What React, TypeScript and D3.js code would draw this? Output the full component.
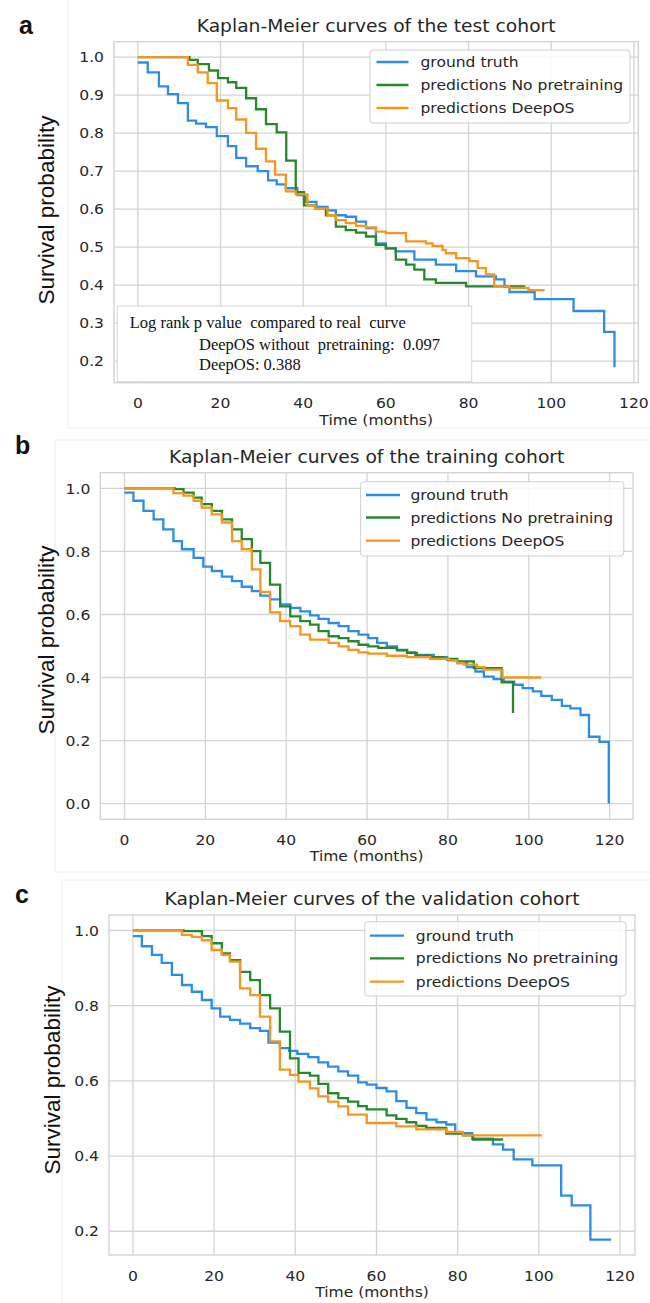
import React from 'react';
import * as d3 from 'd3';

type Pt = [number, number];

// ---- Kaplan-Meier step data: [time in months, survival probability] ----
// Test cohort
const testTruth: Pt[] = [
  [0, 0.986], [2.4, 0.96], [5.1, 0.923], [7.3, 0.903], [9.7, 0.879], [12.1, 0.833], [14.1, 0.825],
  [16.5, 0.816], [19.1, 0.792], [21.8, 0.766], [23.8, 0.735], [26.2, 0.713], [29.0, 0.7], [31.5, 0.676],
  [33.6, 0.665], [35.8, 0.655], [38.6, 0.637], [40.6, 0.619], [43.2, 0.606], [45.9, 0.597], [47.9, 0.584],
  [50.3, 0.58], [52.8, 0.567], [55.2, 0.55], [57.6, 0.51], [60.0, 0.497], [62.4, 0.489], [66.9, 0.467],
  [72.1, 0.454], [77.0, 0.437], [81.8, 0.423], [86.6, 0.415], [88.7, 0.397], [89.9, 0.382], [96.0, 0.363],
  [105.4, 0.332], [112.8, 0.277], [115.3, 0.184],
];
const testNoPretrain: Pt[] = [
  [0, 1.0], [12.5, 0.993], [14.5, 0.982], [17.2, 0.965], [19.4, 0.945], [21.8, 0.934], [23.8, 0.919],
  [26.2, 0.892], [28.6, 0.863], [31.0, 0.824], [33.6, 0.802], [35.9, 0.728], [38.2, 0.645], [40.2, 0.61],
  [42.9, 0.602], [45.5, 0.584], [47.9, 0.554], [50.3, 0.545], [52.8, 0.538], [55.2, 0.528], [57.6, 0.506],
  [60.0, 0.497], [62.4, 0.467], [64.9, 0.454], [66.9, 0.441], [69.3, 0.415], [72.1, 0.406], [79.4, 0.397],
  [93.7, 0.397],
];
const testDeepOS: Pt[] = [
  [0, 1.0], [12.1, 0.98], [14.5, 0.96], [16.9, 0.932], [19.1, 0.886], [21.8, 0.866], [23.8, 0.836],
  [26.2, 0.801], [28.6, 0.759], [31.0, 0.726], [33.2, 0.691], [35.8, 0.647], [38.2, 0.639], [41.0, 0.61],
  [42.9, 0.602], [45.9, 0.584], [47.9, 0.571], [50.3, 0.563], [52.8, 0.556], [55.2, 0.552], [57.6, 0.541],
  [60.0, 0.537], [64.9, 0.515], [69.7, 0.51], [71.3, 0.503], [73.7, 0.493], [74.5, 0.484], [77.0, 0.471],
  [80.2, 0.463], [82.2, 0.445], [84.2, 0.428], [86.2, 0.397], [89.9, 0.393], [94.5, 0.387], [98.4, 0.387],
];

// Training cohort
const trainTruth: Pt[] = [
  [0, 0.987], [2.2, 0.961], [4.7, 0.929], [7.2, 0.902], [9.6, 0.87], [12.1, 0.833], [14.2, 0.807],
  [17.1, 0.78], [19.5, 0.752], [21.6, 0.738], [24.1, 0.72], [26.6, 0.706], [29.0, 0.688], [31.5, 0.674],
  [33.6, 0.66], [36.0, 0.648], [38.5, 0.632], [41.0, 0.621], [43.5, 0.61], [45.9, 0.597], [48.0, 0.586],
  [50.5, 0.573], [53.0, 0.563], [55.4, 0.547], [57.9, 0.536], [60.3, 0.525], [62.5, 0.51], [64.9, 0.499],
  [67.4, 0.488], [69.9, 0.48], [71.9, 0.472], [76.5, 0.465], [79.8, 0.456], [82.3, 0.446], [84.7, 0.433],
  [86.8, 0.419], [88.9, 0.403], [91.3, 0.395], [93.8, 0.387], [96.4, 0.377], [98.5, 0.366], [101.0, 0.356],
  [103.1, 0.342], [105.7, 0.329], [108.2, 0.31], [110.3, 0.302], [112.8, 0.281], [114.9, 0.212],
  [117.5, 0.196], [119.8, 0.0],
];
const trainNoPretrain: Pt[] = [
  [0, 1.0], [12.5, 0.998], [14.6, 0.987], [17.1, 0.971], [19.1, 0.95], [21.6, 0.929], [24.1, 0.902],
  [26.6, 0.87], [29.0, 0.839], [31.5, 0.801], [33.6, 0.764], [36.0, 0.695], [38.5, 0.626], [41.0, 0.594],
  [43.5, 0.579], [45.9, 0.568], [48.0, 0.547], [50.5, 0.531], [53.0, 0.525], [55.4, 0.515], [57.9, 0.504],
  [60.3, 0.499], [62.8, 0.494], [67.4, 0.486], [69.9, 0.478], [72.3, 0.469], [75.6, 0.465], [78.9, 0.459],
  [82.3, 0.451], [86.4, 0.43], [93.3, 0.385], [96.1, 0.287],
];
const trainDeepOS: Pt[] = [
  [0, 1.0], [12.1, 0.985], [14.6, 0.977], [17.1, 0.961], [19.1, 0.939], [21.6, 0.918], [24.1, 0.892],
  [26.6, 0.833], [29.0, 0.807], [31.5, 0.743], [33.6, 0.672], [36.0, 0.607], [38.5, 0.579], [41.0, 0.563],
  [43.5, 0.536], [45.9, 0.52], [50.5, 0.51], [53.0, 0.499], [55.4, 0.488], [57.9, 0.48], [60.3, 0.476],
  [64.9, 0.469], [69.9, 0.465], [75.6, 0.459], [80.2, 0.454], [82.3, 0.446], [83.9, 0.441], [87.2, 0.433],
  [89.0, 0.425], [93.5, 0.4], [103.1, 0.4],
];

// Validation cohort
const validTruth: Pt[] = [
  [0, 0.985], [2.2, 0.958], [4.7, 0.935], [7.1, 0.914], [9.6, 0.882], [12.1, 0.855], [14.5, 0.837],
  [17.0, 0.815], [19.4, 0.793], [21.5, 0.771], [23.9, 0.762], [26.4, 0.752], [28.9, 0.74], [31.3, 0.733],
  [33.4, 0.702], [36.2, 0.687], [38.5, 0.68], [40.5, 0.672], [43.2, 0.663], [45.7, 0.649], [48.1, 0.638],
  [50.6, 0.625], [53.0, 0.614], [55.5, 0.596], [57.6, 0.59], [60.0, 0.581], [62.5, 0.572], [64.9, 0.546],
  [67.4, 0.528], [69.8, 0.514], [72.3, 0.497], [74.8, 0.49], [77.2, 0.484], [79.4, 0.461], [83.6, 0.446],
  [88.7, 0.431], [91.2, 0.417], [93.8, 0.391], [98.4, 0.375], [105.5, 0.295], [108.1, 0.269],
  [112.7, 0.178], [117.8, 0.178],
];
const validNoPretrain: Pt[] = [
  [0, 1.0], [12.5, 0.998], [17.0, 0.985], [19.4, 0.966], [21.9, 0.939], [23.9, 0.921], [26.4, 0.89],
  [28.9, 0.868], [31.3, 0.828], [33.8, 0.793], [36.2, 0.731], [38.7, 0.66], [40.8, 0.621], [43.6, 0.614],
  [45.7, 0.592], [48.1, 0.567], [50.6, 0.554], [53.0, 0.545], [55.5, 0.533], [57.6, 0.524], [62.5, 0.508],
  [64.9, 0.499], [67.4, 0.49], [69.8, 0.48], [72.3, 0.475], [77.2, 0.46], [81.3, 0.455], [83.8, 0.444],
  [91.2, 0.444],
];
const validDeepOS: Pt[] = [
  [0, 1.0], [12.1, 0.988], [14.5, 0.983], [17.0, 0.974], [19.4, 0.948], [21.9, 0.935], [23.9, 0.917],
  [26.4, 0.846], [28.9, 0.828], [31.3, 0.771], [33.8, 0.705], [36.2, 0.63], [38.7, 0.616], [40.8, 0.598],
  [43.6, 0.58], [45.7, 0.559], [48.1, 0.545], [50.6, 0.532], [53.0, 0.51], [57.6, 0.488], [64.9, 0.479],
  [69.8, 0.471], [77.2, 0.464], [81.3, 0.455], [100.7, 0.455],
];

const seriesNames = ['ground truth', 'predictions No pretraining', 'predictions DeepOS'];
const seriesColors = ['#2b8de6', '#24892c', '#f6961f'];

const xTicks = [0, 20, 40, 60, 80, 100, 120];
const yTicksTest = [0.2, 0.3, 0.4, 0.5, 0.6, 0.7, 0.8, 0.9, 1.0];
const yTicksTrain = [0.0, 0.2, 0.4, 0.6, 0.8, 1.0];
const yTicksValid = [0.2, 0.4, 0.6, 0.8, 1.0];

const logRankLines = [
  'Log rank p value  compared to real  curve',
  'DeepOS without  pretraining:  0.097',
  'DeepOS: 0.388',
];

// ---- layout ----
const W = 650;
const H = 1303;
const SANS = "'DejaVu Sans', sans-serif";
const ARIAL = "'Liberation Sans', Arial, sans-serif";
const SERIF = "'Liberation Serif', 'Times New Roman', serif";
const INK = '#262626';
const GRID = '#d4d4d4';
const TICK_SIZE = 14.4;
const TICK_SX = 1.08; // horizontal glyph stretch of the figure
const TITLE_SIZE = 17;
const TITLE_SX = 1.1;

interface PanelSpec {
  letter: string;
  title: string;
  series: Pt[][];
  yTicks: number[];
  frame: { x0: number; x1: number; y0: number; y1: number };
  legend: { x: number; y: number; w: number; h: number; rows: number[]; lx0: number; lx1: number; tx: number };
  ylab: { x: number; y: number };
  letterPos: { x: number; y: number };
  outline: { x: number; y: number; w: number; h: number };
  note?: boolean;
}

const panels: PanelSpec[] = [
  {
    letter: 'a',
    title: 'Kaplan-Meier curves of the test cohort',
    series: [testTruth, testNoPretrain, testDeepOS],
    yTicks: yTicksTest,
    frame: { x0: 114, x1: 638.3, y0: 41.7, y1: 382.7 },
    legend: { x: 370, y: 50, w: 260, h: 73, rows: [62, 85, 108], lx0: 376.5, lx1: 408.5, tx: 420.5 },
    ylab: { x: 54, y: 210 },
    letterPos: { x: 19, y: 34 },
    outline: { x: 68, y: -2, w: 584, h: 430 },
    note: true,
  },
  {
    letter: 'b',
    title: 'Kaplan-Meier curves of the training cohort',
    series: [trainTruth, trainNoPretrain, trainDeepOS],
    yTicks: yTicksTrain,
    frame: { x0: 100.3, x1: 633, y0: 472.7, y1: 819.3 },
    legend: { x: 360.6, y: 481.7, w: 263.2, h: 74.3, rows: [495, 517.5, 540.7], lx0: 366, lx1: 400, tx: 410.4 },
    ylab: { x: 54, y: 640 },
    letterPos: { x: 15, y: 454 },
    outline: { x: 55, y: 440, w: 597, h: 432 },
  },
  {
    letter: 'c',
    title: 'Kaplan-Meier curves of the validation cohort',
    series: [validTruth, validNoPretrain, validDeepOS],
    yTicks: yTicksValid,
    frame: { x0: 109, x1: 635, y0: 915, y1: 1255 },
    legend: { x: 364.8, y: 921.7, w: 261.2, h: 74.3, rows: [935.7, 958.3, 981.7], lx0: 370, lx1: 404, tx: 415.8 },
    ylab: { x: 60, y: 1080 },
    letterPos: { x: 15, y: 903 },
    outline: { x: 62, y: 880, w: 590, h: 425 },
  },
];

// Horizontally stretched text helper
function SText(props: {
  x: number; y: number; size: number; sx?: number; anchor?: 'start' | 'middle' | 'end';
  family?: string; fill?: string; children: React.ReactNode; dy?: string;
}) {
  const { x, y, size, sx = TICK_SX, anchor = 'start', family = SANS, fill = INK, children, dy } = props;
  return (
    <text
      transform={`translate(${x},${y}) scale(${sx},1)`}
      fontSize={size}
      fontFamily={family}
      textAnchor={anchor}
      fill={fill}
      dy={dy}
    >
      {children}
    </text>
  );
}

function Panel({ p }: { p: PanelSpec }) {
  const all = p.series.flat();
  const [tMin, tMax] = d3.extent(all, (d) => d[0]) as [number, number];
  const [sMin, sMax] = d3.extent(all, (d) => d[1]) as [number, number];
  const tPad = (tMax - tMin) * 0.05;
  const sPad = (sMax - sMin) * 0.05;
  const x = d3.scaleLinear().domain([tMin - tPad, tMax + tPad]).range([p.frame.x0, p.frame.x1]);
  const y = d3.scaleLinear().domain([sMin - sPad, sMax + sPad]).range([p.frame.y1, p.frame.y0]);
  const line = d3
    .line<Pt>()
    .x((d) => x(d[0]))
    .y((d) => y(d[1]))
    .curve(d3.curveStepAfter);
  const { x0, x1, y0, y1 } = p.frame;
  const cx = (x0 + x1) / 2;
  const lg = p.legend;

  return (
    <g>
      <rect x={p.outline.x} y={p.outline.y} width={p.outline.w} height={p.outline.h} fill="none" stroke="#eeeeee" strokeWidth={1} />
      {/* grid */}
      {xTicks.map((t) => (
        <line key={'gx' + t} x1={x(t)} x2={x(t)} y1={y0} y2={y1} stroke={GRID} strokeWidth={1.3} />
      ))}
      {p.yTicks.map((v) => (
        <line key={'gy' + v} x1={x0} x2={x1} y1={y(v)} y2={y(v)} stroke={GRID} strokeWidth={1.3} />
      ))}
      <rect x={x0} y={y0} width={x1 - x0} height={y1 - y0} fill="none" stroke={GRID} strokeWidth={1.4} />

      {/* curves */}
      {p.series.map((s, i) => (
        <path key={'s' + i} d={line(s) || ''} fill="none" stroke={seriesColors[i]} strokeWidth={2.3} strokeLinejoin="miter" />
      ))}

      {/* tick labels */}
      {xTicks.map((t) => (
        <SText key={'tx' + t} x={x(t)} y={y1 + 25.5} size={TICK_SIZE} anchor="middle">
          {t}
        </SText>
      ))}
      {p.yTicks.map((v) => (
        <SText key={'ty' + v} x={x0 - 10} y={y(v)} size={TICK_SIZE} anchor="end" dy="0.36em">
          {v.toFixed(1)}
        </SText>
      ))}

      {/* axis labels and title */}
      <SText x={cx} y={y1 + 42} size={TICK_SIZE} anchor="middle">
        Time (months)
      </SText>
      <text
        transform={`translate(${p.ylab.x},${p.ylab.y}) rotate(-90)`}
        fontSize={22.5}
        fontFamily={ARIAL}
        textAnchor="middle"
        fill="#111"
      >
        Survival probability
      </text>
      <SText x={cx} y={y0 - 10} size={TITLE_SIZE} sx={TITLE_SX} anchor="middle">
        {p.title}
      </SText>
      <text x={p.letterPos.x} y={p.letterPos.y} fontSize={25} fontWeight="bold" fontFamily={ARIAL} fill="#111">
        {p.letter}
      </text>

      {/* legend */}
      <rect x={lg.x} y={lg.y} width={lg.w} height={lg.h} rx={3} fill="#ffffff" fillOpacity={0.85} stroke="#cfcfcf" strokeWidth={1} />
      {seriesNames.map((name, i) => (
        <g key={'lg' + i}>
          <line x1={lg.lx0} x2={lg.lx1} y1={lg.rows[i]} y2={lg.rows[i]} stroke={seriesColors[i]} strokeWidth={2.3} />
          <SText x={lg.tx} y={lg.rows[i]} size={TICK_SIZE} dy="0.36em">
            {name}
          </SText>
        </g>
      ))}

      {/* log-rank note */}
      {p.note && (
        <g>
          <rect x={117.3} y={306} width={354.4} height={75.7} fill="#ffffff" stroke="#d6d6d6" strokeWidth={1} />
          {logRankLines.map((l, i) => (
            <text
              key={'n' + i}
              x={i === 0 ? 129.7 : 199}
              y={[328, 350, 370][i]}
              fontSize={16.5}
              fontFamily={SERIF}
              fill="#111"
              style={{ whiteSpace: 'pre' }}
            >
              {l}
            </text>
          ))}
        </g>
      )}
    </g>
  );
}

export default function App() {
  return (
    <svg
      width={W}
      height={H}
      viewBox={`0 0 ${W} ${H}`}
      style={{ position: 'absolute', left: 0, top: 0, background: '#ffffff' }}
    >
      <rect x={0} y={0} width={W} height={H} fill="#ffffff" />
      {panels.map((p) => (
        <Panel key={p.letter} p={p} />
      ))}
    </svg>
  );
}
